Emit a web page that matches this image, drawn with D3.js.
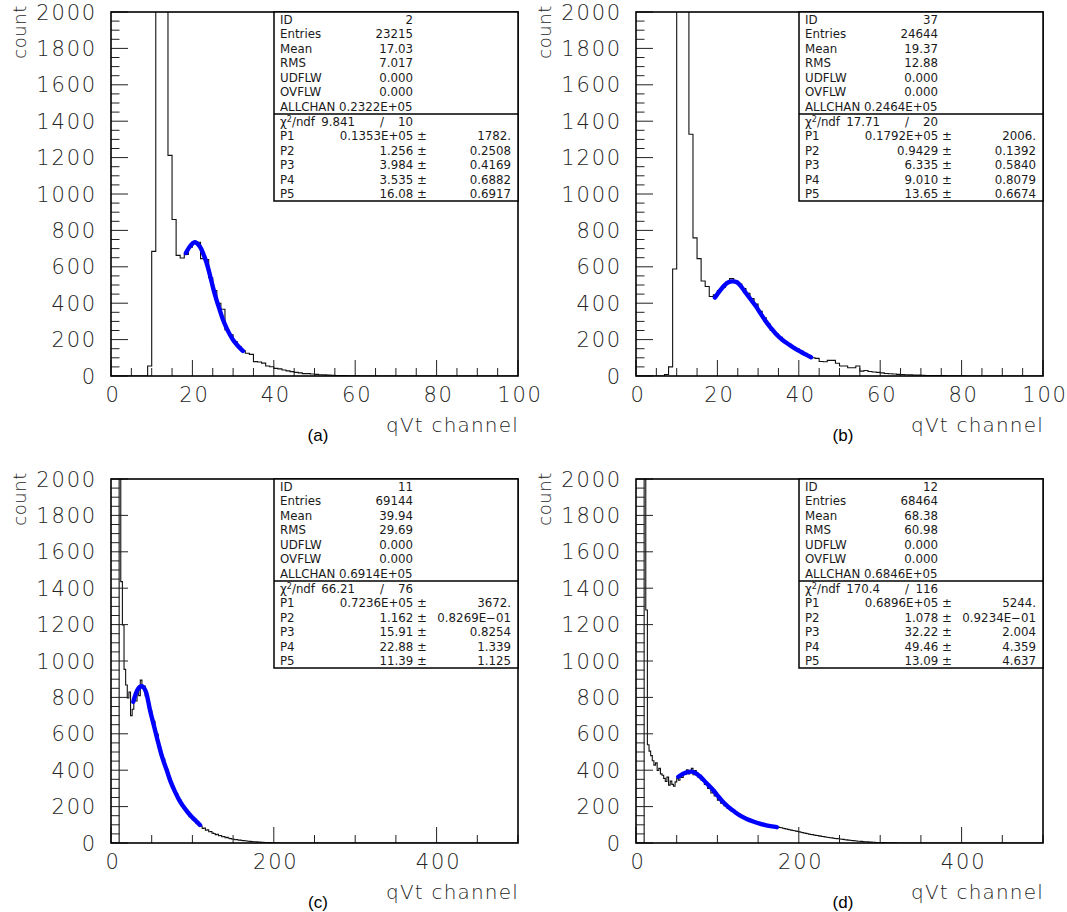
<!DOCTYPE html>
<html>
<head>
<meta charset="utf-8">
<script src="https://cdn.jsdelivr.net/npm/d3@7"></script>
<style>
  html, body { margin: 0; padding: 0; background: #fff; }
  svg { display: block; }
  .tick-label { font-family: "DejaVu Sans", sans-serif; font-size: 21px; font-weight: 300; fill: #262626; letter-spacing: 1.8px; }
  .axis-title { font-family: "DejaVu Sans", sans-serif; font-size: 20px; font-weight: 300; fill: #262626; letter-spacing: 1.2px; }
  .y-title { font-family: "DejaVu Sans", sans-serif; font-size: 18px; font-weight: 300; fill: #262626; letter-spacing: 0.6px; }
  .panel-tag { font-family: "Liberation Sans", Arial, sans-serif; font-size: 17px; fill: #000; }
  .stat { font-family: "DejaVu Sans", sans-serif; font-size: 11.8px; fill: #1a1a1a; }
</style>
</head>
<body>
<svg id="chart" width="1067" height="912"></svg>
<script>
// ---- y axis (count) ----
const yTickValues = [0, 200, 400, 600, 800, 1000, 1200, 1400, 1600, 1800, 2000];
const yMinorStep = 50;

// ---- x axis ----
const xTicksShort = [0, 20, 40, 60, 80, 100];
const xTicksLong = [0, 200, 400];

// ---- histogram contents (bin counts starting at 0) ----
// ID 2, 1 channel per bin
const countsA = [0, 0, 0, 0, 0, 0, 0, 0, 0, 55,
  685, 4800, 5200, 3100, 1212, 860, 663, 648, 668, 708,
  738, 735, 645, 640, 540, 470, 400, 367, 253, 226,
  189, 161, 138, 125, 119, 79, 77, 71, 55, 51,
  42, 39, 33, 28, 24, 20, 17, 13, 13, 11,
  9, 7, 6, 5, 4, 3, 2, 2, 1, 1, 1];

// ID 37, 1 channel per bin
const countsB = [0, 0, 0, 0, 0, 0, 0, 8, 50, 588,
  5500, 6000, 3500, 1328, 759, 645, 522, 492, 437, 446,
  470, 488, 515, 535, 520, 505, 480, 455, 425, 395,
  355, 320, 285, 250, 230, 212, 190, 175, 162, 150,
  137, 125, 112, 100, 97, 80, 78, 86, 86, 70,
  55, 55, 45, 45, 55, 27, 30, 25, 22, 20,
  17, 14, 12, 11, 9, 8, 7, 6, 5, 5,
  4, 3, 3, 2, 2, 2, 1, 1, 1, 1, 1];

// ID 11, 2 channels per bin
const countsC = [0, 0, 0, 0, 0, 4200, 1436, 1198, 954, 868,
  797, 830, 700, 735, 790, 780, 842, 810, 895, 850,
  862, 808, 800, 745, 728, 675, 668, 610, 598, 535,
  520, 470, 462, 418, 405, 365, 350, 315, 305, 272,
  270, 238, 236, 205, 196, 190, 168, 166, 145, 146,
  128, 125, 110, 108, 95, 93, 80, 82, 70, 72,
  62, 63, 54, 52, 46, 48, 40, 41, 34, 36,
  29, 31, 26, 24, 22, 21, 18, 19, 15, 16,
  14, 13, 12, 11, 10, 9, 8, 7, 7, 6,
  5, 5, 4, 4, 3, 3, 2, 2, 2, 1, 1, 1, 1];

// ID 12, 2 channels per bin
const countsD = [0, 0, 0, 0, 0, 4600, 1280, 540, 505, 480,
  452, 428, 440, 398, 410, 380, 372, 355, 338, 362,
  318, 340, 322, 312, 336, 355, 345, 372, 360, 385,
  378, 402, 380, 395, 410, 375, 398, 385, 362, 372,
  345, 350, 322, 330, 300, 312, 275, 288, 258, 262,
  235, 242, 218, 222, 205, 208, 190, 192, 178, 180,
  168, 170, 156, 160, 148, 146, 138, 140, 130, 131,
  124, 125, 117, 118, 111, 112, 105, 106, 100, 102,
  97, 96, 93, 94, 90, 90, 87, 88, 85, 84,
  81, 79, 77, 75, 73, 71, 69, 67, 65, 63,
  61, 59, 57, 55, 53, 51, 49, 47, 46, 44,
  42, 41, 39, 38, 36, 35, 33, 32, 30, 29,
  28, 26, 25, 24, 23, 22, 21, 20, 18, 17,
  16, 15, 14, 13, 12, 11, 10, 10, 9, 8,
  7, 7, 6, 5, 5, 4, 4, 3, 3, 3,
  2, 2, 2, 1, 1, 1, 1, 1, 0, 1];

// ---- fitted curves [channel, count] ----
const fitA = [[18.4, 676], [19.5, 715], [20.6, 735], [21.8, 712], [22.7, 670], [23.5, 621],
  [24.3, 555], [25.1, 483], [25.9, 420], [26.7, 364], [27.5, 310], [28.4, 263],
  [29.2, 228], [30.0, 198], [31.2, 165], [32.4, 138]];
const fitB = [[19.4, 431], [20.5, 465], [21.6, 495], [22.7, 515], [23.7, 520], [24.8, 515],
  [25.9, 490], [27.0, 456], [28.2, 420], [29.5, 382], [30.7, 340], [31.9, 300],
  [33.1, 265], [34.4, 231], [36.0, 198], [37.7, 171], [39.0, 152], [40.1, 138],
  [41.5, 120], [43.0, 103]];
const fitC = [[27.4, 776], [30, 815], [33, 845], [35.5, 858], [37.7, 862], [40, 855],
  [43, 830], [47.9, 731], [53, 640], [58.2, 548], [63, 470], [68.4, 401], [73, 340],
  [78.6, 282], [83.5, 238], [88.9, 200], [95, 165], [100, 140], [105, 118], [109.3, 99]];
const fitD = [[52, 364], [58, 380], [63, 389], [68, 392], [73, 385], [78, 368], [83, 346],
  [89, 318], [95, 290], [100, 262], [105, 235], [110, 212], [115, 192], [121, 172],
  [128, 150], [136, 132], [144, 118], [152, 106], [160, 97], [167, 91], [173, 87]];

// ---- statistics boxes ----
const statsA = [["ID", "2"], ["Entries", "23215"], ["Mean", "17.03"], ["RMS", "7.017"],
  ["UDFLW", "0.000"], ["OVFLW", "0.000"]];
const statsB = [["ID", "37"], ["Entries", "24644"], ["Mean", "19.37"], ["RMS", "12.88"],
  ["UDFLW", "0.000"], ["OVFLW", "0.000"]];
const statsC = [["ID", "11"], ["Entries", "69144"], ["Mean", "39.94"], ["RMS", "29.69"],
  ["UDFLW", "0.000"], ["OVFLW", "0.000"]];
const statsD = [["ID", "12"], ["Entries", "68464"], ["Mean", "68.38"], ["RMS", "60.98"],
  ["UDFLW", "0.000"], ["OVFLW", "0.000"]];
const allchan = ["0.2322E+05", "0.2464E+05", "0.6914E+05", "0.6846E+05"];
const chi2 = [["9.841", "10"], ["17.71", "20"], ["66.21", "76"], ["170.4", "116"]];
const paramsA = [["P1", "0.1353E+05", "1782."], ["P2", "1.256", "0.2508"], ["P3", "3.984", "0.4169"],
  ["P4", "3.535", "0.6882"], ["P5", "16.08", "0.6917"]];
const paramsB = [["P1", "0.1792E+05", "2006."], ["P2", "0.9429", "0.1392"], ["P3", "6.335", "0.5840"],
  ["P4", "9.010", "0.8079"], ["P5", "13.65", "0.6674"]];
const paramsC = [["P1", "0.7236E+05", "3672."], ["P2", "1.162", "0.8269E\u221201"], ["P3", "15.91", "0.8254"],
  ["P4", "22.88", "1.339"], ["P5", "11.39", "1.125"]];
const paramsD = [["P1", "0.6896E+05", "5244."], ["P2", "1.078", "0.9234E\u221201"], ["P3", "32.22", "2.004"],
  ["P4", "49.46", "4.359"], ["P5", "13.09", "4.637"]];

const panelTags = ["(a)", "(b)", "(c)", "(d)"];
const xTitle = "qVt channel";
const yTitle = "count";

// ---- layout ----
const svg = d3.select("#chart");
const frameW = 407, frameH = 364;
const panels = [
  { left: 111, top: 12, xMax: 100, xMinor: 5, xMajor: 20, ticks: xTicksShort, counts: countsA, bw: 1, fit: fitA, stats: statsA, params: paramsA },
  { left: 636, top: 12, xMax: 100, xMinor: 5, xMajor: 20, ticks: xTicksShort, counts: countsB, bw: 1, fit: fitB, stats: statsB, params: paramsB },
  { left: 111, top: 479, xMax: 500, xMinor: 50, xMajor: 200, ticks: xTicksLong, counts: countsC, bw: 2, fit: fitC, stats: statsC, params: paramsC },
  { left: 636, top: 479, xMax: 500, xMinor: 50, xMajor: 200, ticks: xTicksLong, counts: countsD, bw: 2, fit: fitD, stats: statsD, params: paramsD }
];

panels.forEach((p, k) => {
  const g = svg.append("g");
  const x = d3.scaleLinear().domain([0, p.xMax]).range([p.left, p.left + frameW]);
  const y = d3.scaleLinear().domain([0, 2000]).range([p.top + frameH, p.top]);

  const clipId = "clip" + k;
  svg.append("clipPath").attr("id", clipId)
    .append("rect").attr("x", p.left).attr("y", p.top).attr("width", frameW).attr("height", frameH);

  // histogram outline
  const pts = [[0, 0]];
  p.counts.forEach((c, i) => { pts.push([i * p.bw, c]); pts.push([(i + 1) * p.bw, c]); });
  pts.push([p.counts.length * p.bw, 0]);
  pts.push([p.xMax, 0]);
  const line = d3.line().x(d => x(d[0])).y(d => y(Math.min(d[1], 2300)));
  g.append("path").attr("d", line(pts)).attr("clip-path", `url(#${clipId})`)
    .attr("fill", "none").attr("stroke", "#111").attr("stroke-width", 1.1);

  // fit curve
  const fitLine = d3.line().x(d => x(d[0])).y(d => y(d[1])).curve(d3.curveCatmullRom.alpha(0.5));
  g.append("path").attr("d", fitLine(p.fit)).attr("fill", "none")
    .attr("stroke", "#0000ff").attr("stroke-width", 4.4).attr("stroke-linecap", "round");

  // y axis ticks (inward)
  const yMinor = d3.range(0, 2001, yMinorStep);
  g.selectAll(null).data(yMinor).join("line")
    .attr("x1", p.left).attr("x2", d => p.left + (d % 200 === 0 ? 17 : 8.5))
    .attr("y1", d => y(d)).attr("y2", d => y(d))
    .attr("stroke", "#222").attr("stroke-width", 1);
  g.selectAll(null).data(yTickValues).join("text").attr("class", "tick-label")
    .attr("x", p.left - 14).attr("y", d => y(d) + 7.5).attr("text-anchor", "end")
    .text(d => d);

  // x axis ticks (inward)
  const xMinor = d3.range(0, p.xMax + 0.001, p.xMinor);
  g.selectAll(null).data(xMinor).join("line")
    .attr("x1", d => x(d)).attr("x2", d => x(d))
    .attr("y1", p.top + frameH)
    .attr("y2", d => p.top + frameH - (Math.abs(d % p.xMajor) < 1e-6 ? 16 : 8))
    .attr("stroke", "#222").attr("stroke-width", 1);
  g.selectAll(null).data(p.ticks).join("text").attr("class", "tick-label")
    .attr("x", d => x(d) + 2).attr("y", p.top + frameH + 26).attr("text-anchor", "middle")
    .text(d => d);

  // frame
  g.append("rect").attr("x", p.left).attr("y", p.top).attr("width", frameW).attr("height", frameH)
    .attr("fill", "none").attr("stroke", "#000").attr("stroke-width", 1.6);

  // axis titles
  g.append("text").attr("class", "y-title")
    .attr("transform", `translate(${p.left - 85},${p.top - 7}) rotate(-90)`)
    .attr("text-anchor", "end").text(yTitle);
  g.append("text").attr("class", "axis-title")
    .attr("x", p.left + frameW + 1).attr("y", p.top + frameH + 56).attr("text-anchor", "end")
    .text(xTitle);
  g.append("text").attr("class", "panel-tag")
    .attr("x", p.left + 207).attr("y", p.top + frameH + 65).attr("text-anchor", "middle")
    .text(panelTags[k]);

  // statistics box
  const bx = p.left + frameW - 244, by = p.top;
  const rowH = 14.57;
  const box = g.append("g");
  box.append("rect").attr("x", bx).attr("y", by).attr("width", 244).attr("height", 189)
    .attr("fill", "#fff").attr("stroke", "#000").attr("stroke-width", 1.5);
  box.append("line").attr("x1", bx).attr("x2", bx + 244).attr("y1", by + 102).attr("y2", by + 102)
    .attr("stroke", "#000").attr("stroke-width", 1.5);
  p.stats.forEach((s, i) => {
    const ty = by + rowH * (i + 0.5) + 4.3;
    box.append("text").attr("class", "stat").attr("x", bx + 6).attr("y", ty).text(s[0]);
    box.append("text").attr("class", "stat").attr("x", bx + 139).attr("y", ty).attr("text-anchor", "end").text(s[1]);
  });
  box.append("text").attr("class", "stat").attr("x", bx + 6).attr("y", by + rowH * 6.5 + 4.3)
    .text("ALLCHAN " + allchan[k]);
  const r0 = by + 102, rowH2 = 14.5;
  const chiY = r0 + rowH2 * 0.5 + 4.3;
  const chiRow = box.append("text").attr("class", "stat").attr("x", bx + 6).attr("y", chiY);
  chiRow.append("tspan").text("\u03c7");
  chiRow.append("tspan").attr("dy", -4).attr("font-size", "8px").text("2");
  chiRow.append("tspan").attr("dy", 4).text("/ndf");
  box.append("text").attr("class", "stat").attr("x", bx + 81).attr("y", chiY)
    .attr("text-anchor", "end").text(chi2[k][0]);
  box.append("text").attr("class", "stat").attr("x", bx + 108).attr("y", chiY)
    .attr("text-anchor", "middle").text("/");
  box.append("text").attr("class", "stat").attr("x", bx + 139).attr("y", chiY)
    .attr("text-anchor", "end").text(chi2[k][1]);
  p.params.forEach((s, i) => {
    const ty = r0 + rowH2 * (i + 1.5) + 4.3;
    box.append("text").attr("class", "stat").attr("x", bx + 6).attr("y", ty).text(s[0]);
    box.append("text").attr("class", "stat").attr("x", bx + 153).attr("y", ty).attr("text-anchor", "end").text(s[1] + " \u00b1");
    box.append("text").attr("class", "stat").attr("x", bx + 237).attr("y", ty).attr("text-anchor", "end").text(s[2]);
  });
});
</script>
</body>
</html>
